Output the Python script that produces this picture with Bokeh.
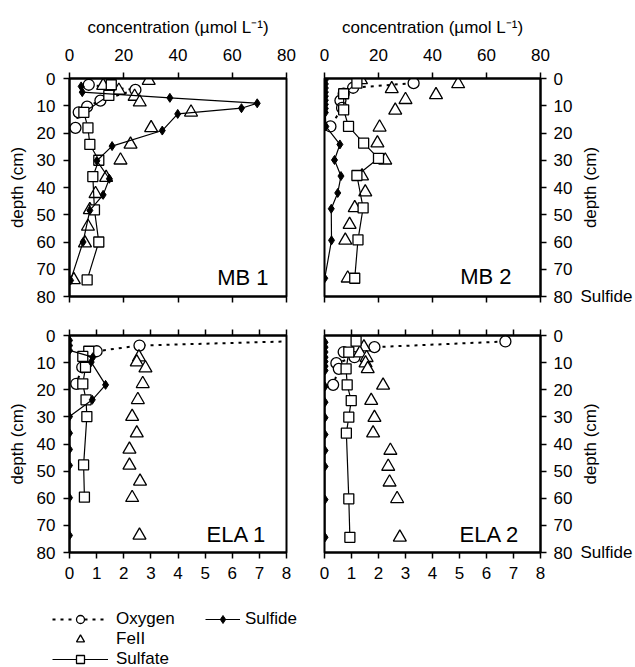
import math
from bokeh.plotting import figure
from bokeh.models import LinearAxis, Range1d, FixedTicker, Label, Legend, LegendItem
from bokeh.layouts import column, row
from bokeh.embed import file_html
from bokeh.resources import INLINE

FONT = "Liberation Sans"

# ---------------- data (x = concentration, d = depth in cm) ----------------
# MB 1 (x in umol/L)
mb1_oxy_x = [7.1, 24.3, 11.4, 6.5, 3.4, 2.2]
mb1_oxy_d = [2.3, 4.2, 8.1, 10.3, 12.4, 18.1]
mb1_fe_x = [29.2, 12.4, 18.2, 24.0, 25.9, 44.8, 30.1, 22.5, 18.8, 13.5, 9.6, 7.5, 6.8, 5.7, 1.6]
mb1_fe_d = [0.8, 2.6, 4.4, 6.6, 8.7, 12.4, 18.1, 24.2, 30.0, 36.4, 42.3, 48.2, 54.3, 60.4, 73.9]
mb1_so4_x = [15.4, 14.5, 5.3, 6.8, 7.5, 10.8, 8.6, 9.2, 10.8, 6.5]
mb1_so4_d = [2.3, 6.2, 12.4, 18.1, 24.2, 30.0, 36.0, 48.2, 60.0, 73.9]
mb1_hs_x = [4.3, 4.7, 37.0, 69.2, 63.4, 39.9, 34.2, 15.7, 10.1, 14.7, 12.4, 7.5, 5.0, 0.4]
mb1_hs_d = [2.9, 5.0, 7.1, 9.1, 10.9, 13.0, 19.1, 24.8, 30.2, 36.8, 42.7, 48.4, 60.0, 74.1]

# MB 2 (x in umol/L)
mb2_oxy_x = [33.0, 10.6, 7.1, 5.9, 6.5, 2.2]
mb2_oxy_d = [1.7, 3.4, 5.6, 8.1, 10.8, 17.6]
mb2_fe_x = [13.5, 49.5, 24.9, 41.3, 30.0, 26.2, 20.4, 19.6, 22.5, 13.9, 15.1, 11.2, 9.3, 7.7, 8.6]
mb2_fe_d = [0.5, 2.0, 3.8, 6.0, 7.8, 11.7, 17.9, 23.7, 30.0, 35.8, 41.7, 47.5, 53.6, 59.4, 73.3]
mb2_so4_x = [12.0, 7.1, 7.1, 8.9, 14.5, 20.0, 12.0, 14.3, 12.4, 11.2]
mb2_so4_d = [1.7, 5.6, 11.5, 17.6, 23.7, 29.3, 35.6, 47.5, 59.2, 73.3]
mb2_hs_x = [0.3, 0.3, 0.3, 0.3, 0.3, 0.3, 0.3, 0.3, 0.3, 0.5, 5.7, 3.7, 6.1, 4.9, 2.5, 2.6, 0.1]
mb2_hs_d = [0.5, 2.0, 3.5, 5.0, 6.5, 8.0, 9.5, 11.0, 12.5, 17.6, 24.2, 29.9, 35.8, 42.0, 47.8, 59.4, 73.3]

# ELA 1 (x in umol/L, 0-8 scale)
ela1_oxy_x = [8.7, 2.58, 1.0, 0.47, 0.25]
ela1_oxy_d = [2.0, 3.7, 5.8, 11.7, 17.8]
ela1_fe_x = [2.56, 2.48, 2.8, 2.7, 2.52, 2.31, 2.48, 2.21, 2.21, 2.6, 2.31, 2.58]
ela1_fe_d = [8.0, 9.8, 12.0, 17.8, 23.7, 29.9, 36.0, 42.0, 47.9, 53.8, 59.8, 73.7]
ela1_so4_x = [0.71, 0.49, 0.59, 0.49, 0.61, 0.64, 0.52, 0.55]
ela1_so4_d = [5.8, 7.7, 11.7, 17.8, 23.7, 29.9, 47.7, 59.6]
ela1_hs_x = [0.0, 0.0, 0.0, 0.86, 0.8, 1.33, 0.84, 0.0, 0.0, 0.0, 0.0, 0.0, 0.0]
ela1_hs_d = [1.8, 3.7, 5.5, 8.0, 9.8, 18.2, 23.7, 29.9, 36.0, 42.0, 47.9, 59.8, 73.7]

# ELA 2 (x in umol/L, 0-8 scale)
ela2_oxy_x = [6.7, 1.85, 0.71, 1.11, 0.44, 0.53, 0.32]
ela2_oxy_d = [2.2, 4.3, 6.1, 8.0, 10.2, 12.3, 18.2]
ela2_fe_x = [1.46, 1.31, 1.56, 1.52, 1.6, 2.17, 1.73, 1.85, 1.8, 2.44, 2.36, 2.41, 2.69, 2.79]
ela2_fe_d = [4.3, 6.5, 8.2, 10.2, 12.3, 18.4, 24.0, 30.3, 36.0, 42.4, 48.3, 54.1, 60.2, 74.4]
ela2_so4_x = [1.17, 0.9, 0.8, 0.84, 0.99, 0.9, 0.81, 0.9, 0.94]
ela2_so4_d = [2.1, 6.1, 12.3, 18.2, 24.0, 30.1, 36.0, 60.2, 74.4]
ela2_hs_x = [0.02, 0.02, 0.02, 0.02, 0.02, 0.02, 0.02, 0.02, 0.02, 0.02, 0.02, 0.02, 0.02, 0.02, 0.02]
ela2_hs_d = [2.5, 4.3, 6.1, 8.0, 9.6, 11.3, 12.9, 18.8, 24.6, 30.3, 36.5, 42.4, 48.3, 60.5, 74.4]

depth_ticks = [0, 10, 20, 30, 40, 50, 60, 70, 80]
top_ticks = [0, 20, 40, 60, 80]
bot_ticks = [0, 1, 2, 3, 4, 5, 6, 7, 8]
conc_title = "concentration (µmol L\u207b\u00b9)"
depth_title = "depth (cm)"
series_names = ["Oxygen", "FeII", "Sulfate", "Sulfide"]
panel_names = ["MB 1", "MB 2", "ELA 1", "ELA 2"]

FS = "17px"
DMAX = 80


def mk_axis(ticks, show_labels, title=None, label_standoff=8, title_standoff=10):
    ax = LinearAxis(ticker=FixedTicker(ticks=ticks))
    ax.axis_line_width = 2
    ax.axis_line_color = "black"
    ax.major_tick_out = 6
    ax.major_tick_in = 0
    ax.major_tick_line_width = 1.5
    ax.major_tick_line_color = "black"
    ax.minor_tick_line_color = None
    ax.major_label_text_font = FONT
    ax.major_label_standoff = label_standoff
    if show_labels:
        ax.major_label_text_font_size = FS
        ax.major_label_text_color = "black"
    else:
        ax.major_label_text_font_size = "1px"
        ax.major_label_text_color = None
        ax.major_label_standoff = 0
    if title:
        ax.axis_label = title
        ax.axis_label_text_font = FONT
        ax.axis_label_text_font_size = FS
        ax.axis_label_text_font_style = "normal"
        ax.axis_label_text_color = "black"
        ax.axis_label_standoff = title_standoff
    return ax


def panel(xmax, width, height, bl, br, bt, bb):
    p = figure(width=width, height=height, x_range=Range1d(0, xmax), y_range=Range1d(DMAX, 0),
               output_backend="svg", toolbar_location=None,
               x_axis_location=None, y_axis_location=None,
               min_border_left=bl, min_border_right=br, min_border_top=bt, min_border_bottom=bb)
    p.grid.grid_line_color = None
    p.outline_line_color = "black"
    p.outline_line_width = 2
    p.background_fill_color = "white"
    p.border_fill_color = "white"
    return p


def strip(height, bt, bb):
    # thin figure right of a right-hand panel (frames align in the row): its left axis
    # carries the "Sulfide" note at depth 80 and the bottom-to-top "depth (cm)" title
    s = figure(width=60, height=height, x_range=Range1d(0, 1), y_range=Range1d(DMAX, 0),
               output_backend="svg", toolbar_location=None,
               x_axis_location=None, y_axis_location=None,
               min_border_left=59, min_border_right=0, min_border_top=bt, min_border_bottom=bb)
    s.grid.grid_line_color = None
    s.outline_line_color = None
    s.background_fill_color = None
    ax = LinearAxis(ticker=FixedTicker(ticks=[DMAX]))
    ax.axis_line_color = None
    ax.major_tick_line_color = None
    ax.minor_tick_line_color = None
    ax.major_tick_out = 0
    ax.major_tick_in = 0
    ax.major_label_standoff = 2
    ax.major_label_overrides = {DMAX: series_names[3]}
    ax.major_label_text_font = FONT
    ax.major_label_text_font_size = FS
    ax.major_label_text_color = "black"
    ax.axis_label = depth_title
    ax.axis_label_text_font = FONT
    ax.axis_label_text_font_size = FS
    ax.axis_label_text_font_style = "normal"
    ax.axis_label_text_color = "black"
    ax.axis_label_standoff = -22
    s.add_layout(ax, "left")
    return s


def draw(p, ox, od, fx, fd, sx, sd, hx, hd):
    r = {}
    r["ol"] = p.line(ox, od, line_color="black", line_width=2, line_dash="3 5")
    r["op"] = p.scatter(ox, od, marker="circle", size=11, fill_color="white", line_color="black", line_width=1.3)
    r["fp"] = p.scatter(fx, fd, marker="triangle", size=13, fill_color="white", line_color="black", line_width=1.3)
    r["sl"] = p.line(sx, sd, line_color="black", line_width=1.2)
    r["sp"] = p.scatter(sx, sd, marker="square", size=10, fill_color="white", line_color="black", line_width=1.3)
    r["hl"] = p.line(hx, hd, line_color="black", line_width=1.2)
    r["hp"] = p.scatter(hx, hd, marker="diamond", size=9, fill_color="black", line_color="black", line_width=1)
    return r


def tag(p, x, y, text):
    p.add_layout(Label(x=x, y=y, text=text, text_font=FONT, text_font_size="22px",
                       text_align="right", text_baseline="alphabetic", text_color="black"))


FW = 217
TOP_H = 78 + 218 + 19
BOT_H = 20 + 217 + 40

# top-left
tl = panel(80, 69 + FW + 19, TOP_H, 69, 19, 78, 19)
tl.add_layout(mk_axis(depth_ticks, True, depth_title, title_standoff=7), "left")
tl.add_layout(mk_axis(top_ticks, True, conc_title, label_standoff=12, title_standoff=9), "above")
tl.add_layout(mk_axis(top_ticks, False), "below")
draw(tl, mb1_oxy_x, mb1_oxy_d, mb1_fe_x, mb1_fe_d, mb1_so4_x, mb1_so4_d, mb1_hs_x, mb1_hs_d)
tag(tl, 73.4, 73.0, panel_names[0])

# top-right
tr = panel(80, 19 + FW + 34, TOP_H, 19, 34, 78, 19)
tr.add_layout(mk_axis(depth_ticks, True, label_standoff=7), "right")
tr.add_layout(mk_axis(top_ticks, True, conc_title, label_standoff=12, title_standoff=9), "above")
tr.add_layout(mk_axis(top_ticks, False), "below")
draw(tr, mb2_oxy_x, mb2_oxy_d, mb2_fe_x, mb2_fe_d, mb2_so4_x, mb2_so4_d, mb2_hs_x, mb2_hs_d)
tag(tr, 69.3, 72.7, panel_names[1])
st = strip(TOP_H, 78, 19)

# bottom-left
bl = panel(8, 69 + FW + 19, BOT_H, 69, 19, 20, 40)
bl.add_layout(mk_axis(depth_ticks, True, depth_title, title_standoff=7), "left")
bl.add_layout(mk_axis(bot_ticks, False), "above")
bl.add_layout(mk_axis(bot_ticks, True), "below")
draw(bl, ela1_oxy_x, ela1_oxy_d, ela1_fe_x, ela1_fe_d, ela1_so4_x, ela1_so4_d, ela1_hs_x, ela1_hs_d)
tag(bl, 7.26, 73.4, panel_names[2])

# bottom-right
br = panel(8, 19 + FW + 34, BOT_H, 19, 34, 20, 40)
br.add_layout(mk_axis(depth_ticks, True, label_standoff=7), "right")
br.add_layout(mk_axis(bot_ticks, False), "above")
br.add_layout(mk_axis(bot_ticks, True), "below")
draw(br, ela2_oxy_x, ela2_oxy_d, ela2_fe_x, ela2_fe_d, ela2_so4_x, ela2_so4_d, ela2_hs_x, ela2_hs_d)
tag(br, 7.22, 73.4, panel_names[3])
sb = strip(BOT_H, 20, 40)

# legend strip: the ELA 1 series are drawn here off-view so the legend has real glyphs
lg = figure(width=635, height=75, x_range=Range1d(100, 101), y_range=Range1d(100, 101),
            output_backend="svg", toolbar_location=None,
            x_axis_location=None, y_axis_location=None,
            min_border=0, min_border_left=0, min_border_right=0, min_border_top=0, min_border_bottom=0)
lg.grid.grid_line_color = None
lg.outline_line_color = None
lr = draw(lg, ela1_oxy_x, ela1_oxy_d, ela1_fe_x, ela1_fe_d, ela1_so4_x, ela1_so4_d, ela1_hs_x, ela1_hs_d)


def mk_legend(items, loc, gw, standoff):
    return Legend(items=items, location=loc, glyph_width=gw, glyph_height=20, label_height=20,
                  spacing=0, padding=0, margin=0, label_standoff=standoff,
                  border_line_color=None, background_fill_alpha=0,
                  label_text_font=FONT, label_text_font_size=FS, label_text_color="black")


leg1 = mk_legend([LegendItem(label=series_names[0], renderers=[lr["ol"], lr["op"]]),
                  LegendItem(label=series_names[1], renderers=[lr["fp"]]),
                  LegendItem(label=series_names[2], renderers=[lr["sl"], lr["sp"]])], (52, -2), 56, 8)
leg2 = mk_legend([LegendItem(label=series_names[3], renderers=[lr["hl"], lr["hp"]])], (205, 38), 35, 5)
lg.add_layout(leg1)
lg.add_layout(leg2)

page = column(row(tl, tr, st), row(bl, br, sb), lg)
open("out.html", "w").write(file_html(page, INLINE))
